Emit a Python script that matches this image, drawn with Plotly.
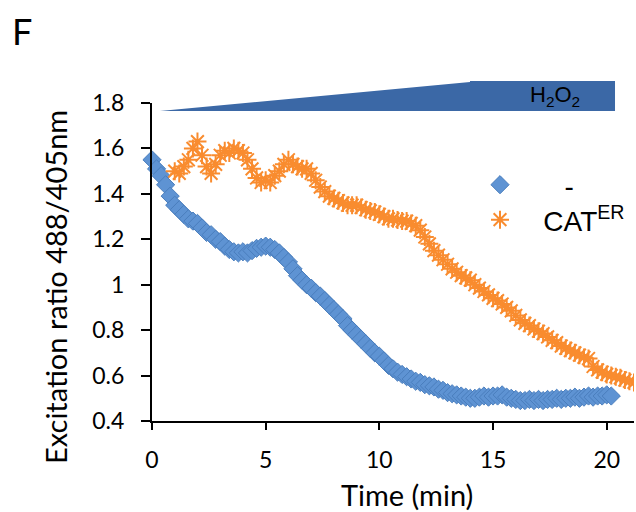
import plotly.graph_objects as go

# ---- data ----
time_ctrl = [0.0, 0.2, 0.4, 0.6, 0.8, 1.0, 1.2, 1.4, 1.6, 1.8, 2.0, 2.2, 2.4, 2.6, 2.8, 3.0,
             3.2, 3.4, 3.6, 3.8, 4.0, 4.2, 4.4, 4.6, 4.8, 5.0, 5.2, 5.4, 5.6, 5.8, 6.0, 6.2,
             6.4, 6.6, 6.8, 7.0, 7.2, 7.4, 7.6, 7.8, 8.0, 8.2, 8.4, 8.6, 8.8, 9.0, 9.2, 9.4,
             9.6, 9.8, 10.0, 10.2, 10.4, 10.6, 10.8, 11.0, 11.2, 11.4, 11.6, 11.8, 12.0, 12.2,
             12.4, 12.6, 12.8, 13.0, 13.2, 13.4, 13.6, 13.8, 14.0, 14.2, 14.4, 14.6, 14.8, 15.0,
             15.2, 15.4, 15.6, 15.8, 16.0, 16.2, 16.4, 16.6, 16.8, 17.0, 17.2, 17.4, 17.6, 17.8,
             18.0, 18.2, 18.4, 18.6, 18.8, 19.0, 19.2, 19.4, 19.6, 19.8, 20.0, 20.2]
ratio_ctrl = [1.55, 1.51, 1.48, 1.44, 1.39, 1.35, 1.33, 1.31, 1.29, 1.28, 1.27, 1.25, 1.23, 1.22,
              1.20, 1.19, 1.17, 1.155, 1.145, 1.14, 1.145, 1.14, 1.15, 1.16, 1.165, 1.17, 1.165,
              1.155, 1.14, 1.12, 1.10, 1.07, 1.04, 1.02, 1.00, 0.985, 0.965, 0.95, 0.93, 0.91,
              0.89, 0.87, 0.85, 0.82, 0.80, 0.78, 0.76, 0.74, 0.72, 0.70, 0.685, 0.665, 0.645,
              0.63, 0.615, 0.605, 0.595, 0.585, 0.575, 0.57, 0.56, 0.555, 0.55, 0.54, 0.535,
              0.525, 0.52, 0.515, 0.51, 0.505, 0.50, 0.50, 0.505, 0.51, 0.505, 0.51, 0.51, 0.515,
              0.505, 0.50, 0.495, 0.49, 0.49, 0.495, 0.49, 0.495, 0.49, 0.495, 0.495, 0.50,
              0.495, 0.50, 0.50, 0.505, 0.50, 0.505, 0.51, 0.505, 0.51, 0.51, 0.515, 0.51]

time_cat = [1.0, 1.2, 1.4, 1.6, 1.8, 2.0, 2.2, 2.4, 2.6, 2.8, 3.0, 3.2, 3.4, 3.6, 3.8, 4.0, 4.2,
            4.4, 4.6, 4.8, 5.0, 5.2, 5.4, 5.6, 5.8, 6.0, 6.2, 6.4, 6.6, 6.8, 7.0, 7.2, 7.4, 7.6,
            7.8, 8.0, 8.2, 8.4, 8.6, 8.8, 9.0, 9.2, 9.4, 9.6, 9.8, 10.0, 10.2, 10.4, 10.6, 10.8,
            11.0, 11.2, 11.4, 11.6, 11.8, 12.0, 12.2, 12.4, 12.6, 12.8, 13.0, 13.2, 13.4, 13.6,
            13.8, 14.0, 14.2, 14.4, 14.6, 14.8, 15.0, 15.2, 15.4, 15.6, 15.8, 16.0, 16.2, 16.4,
            16.6, 16.8, 17.0, 17.2, 17.4, 17.6, 17.8, 18.0, 18.2, 18.4, 18.6, 18.8, 19.0, 19.2,
            19.4, 19.6, 19.8, 20.0, 20.2, 20.4, 20.6, 20.8, 21.0, 21.2]
ratio_cat = [1.50, 1.49, 1.52, 1.55, 1.60, 1.63, 1.57, 1.52, 1.49, 1.53, 1.57, 1.59, 1.58, 1.60,
             1.59, 1.58, 1.55, 1.51, 1.47, 1.45, 1.46, 1.45, 1.48, 1.50, 1.53, 1.55, 1.53, 1.52,
             1.51, 1.51, 1.49, 1.46, 1.43, 1.41, 1.39, 1.38, 1.37, 1.36, 1.35, 1.35, 1.35, 1.34,
             1.33, 1.325, 1.32, 1.31, 1.30, 1.29, 1.29, 1.285, 1.28, 1.28, 1.27, 1.26, 1.24,
             1.21, 1.18, 1.15, 1.13, 1.11, 1.09, 1.07, 1.055, 1.04, 1.03, 1.02, 1.00, 0.985,
             0.97, 0.955, 0.94, 0.93, 0.915, 0.90, 0.885, 0.865, 0.845, 0.83, 0.82, 0.805, 0.795,
             0.785, 0.77, 0.755, 0.745, 0.73, 0.72, 0.71, 0.70, 0.69, 0.68, 0.675, 0.64, 0.625,
             0.615, 0.605, 0.60, 0.595, 0.59, 0.58, 0.575, 0.57]

series_names = ["\u00a0\u00a0\u00a0\u00a0\u00a0\u2009-", "\u00a0\u00a0\u00a0CAT<sup>ER</sup>"]
x_ticks = [0, 5, 10, 15, 20]
y_ticks = [0.4, 0.6, 0.8, 1.0, 1.2, 1.4, 1.6, 1.8]
y_tick_text = ["0.4", "0.6", "0.8", "1", "1.2", "1.4", "1.6", "1.8"]

BLUE = "#5e93d3"
BLUE_EDGE = "#4a7ebd"
ORANGE = "#f98c2f"
H2O2_BLUE = "#3b68a6"

fig = go.Figure()
fig.add_trace(go.Scatter(
    x=time_ctrl, y=ratio_ctrl, mode="markers", name=series_names[0], legend="legend",
    marker=dict(symbol="diamond", size=14, color=BLUE, line=dict(color=BLUE_EDGE, width=1)),
    cliponaxis=False,
))
fig.add_trace(go.Scatter(
    x=time_cat, y=ratio_cat, mode="markers", name=series_names[1], legend="legend2",
    marker=dict(symbol="asterisk-open", size=15, color=ORANGE, line=dict(color=ORANGE, width=2)),
))

# plot area in pixels: left 152, right 634, top 103, bottom 421
W, H = 636, 512
L, R, T, B = 152, 2, 103, 91
pw = W - L - R
ph = H - T - B

def px(xp):
    return (xp - L) / pw

def py(yp):
    return (H - B - yp) / ph

# H2O2 gradient wedge + bar
path = "M {:.4f},{:.4f} L {:.4f},{:.4f} L {:.4f},{:.4f} L {:.4f},{:.4f} L {:.4f},{:.4f} Z".format(
    px(160), py(111), px(470), py(82), px(470), py(81), px(615), py(81), px(615), py(111))
fig.add_shape(type="path", xref="paper", yref="paper", path=path,
              fillcolor=H2O2_BLUE, line=dict(width=0), layer="above")

fig.add_annotation(xref="paper", yref="paper", x=px(555), y=py(96), text="H<sub>2</sub>O<sub>2</sub>",
                   showarrow=False, xanchor="center", yanchor="middle",
                   font=dict(family="Liberation Sans, Arial", size=22, color="black"))

fig.add_annotation(xref="paper", yref="paper", x=px(10), y=py(31), text="F",
                   showarrow=False, xanchor="left", yanchor="middle",
                   font=dict(family="Lato", size=36, color="black"))

fig.add_annotation(xref="paper", yref="paper", x=px(55), y=py(287),
                   text="Excitation ratio 488/405nm", textangle=-90,
                   showarrow=False, xanchor="center", yanchor="middle",
                   font=dict(family="Lato", size=29, color="black"))

fig.add_annotation(xref="paper", yref="paper", x=px(407), y=py(494),
                   text="Time (min)", showarrow=False, xanchor="center", yanchor="middle",
                   font=dict(family="Lato", size=29, color="black"))

legend_common = dict(xanchor="left", yanchor="middle", bgcolor="rgba(0,0,0,0)", borderwidth=0,
                     font=dict(family="Liberation Sans, Arial", size=28, color="black"))
fig.update_layout(
    width=W, height=H,
    margin=dict(l=L, r=R, t=T, b=B, pad=0),
    paper_bgcolor="white", plot_bgcolor="white",
    font=dict(family="Lato", size=23, color="black"),
    showlegend=True,
    legend=dict(x=px(480), y=py(185), **legend_common),
    legend2=dict(x=px(480), y=py(220), **legend_common),
)
fig.update_xaxes(range=[0, 21.2], tickvals=x_ticks, showline=True, linecolor="black", linewidth=2,
                 ticks="outside", ticklen=7, tickwidth=2, tickcolor="black",
                 showgrid=False, zeroline=False, ticklabelstandoff=10,
                 tickfont=dict(family="Lato", size=23, color="black"))
fig.update_yaxes(range=[0.4, 1.8], tickvals=y_ticks, ticktext=y_tick_text, showline=True,
                 linecolor="black", linewidth=2, ticks="outside", ticklen=9, tickwidth=2,
                 tickcolor="black", showgrid=False, zeroline=False, ticklabelstandoff=12,
                 tickfont=dict(family="Lato", size=23, color="black"))

fig.write_html("out.html")
